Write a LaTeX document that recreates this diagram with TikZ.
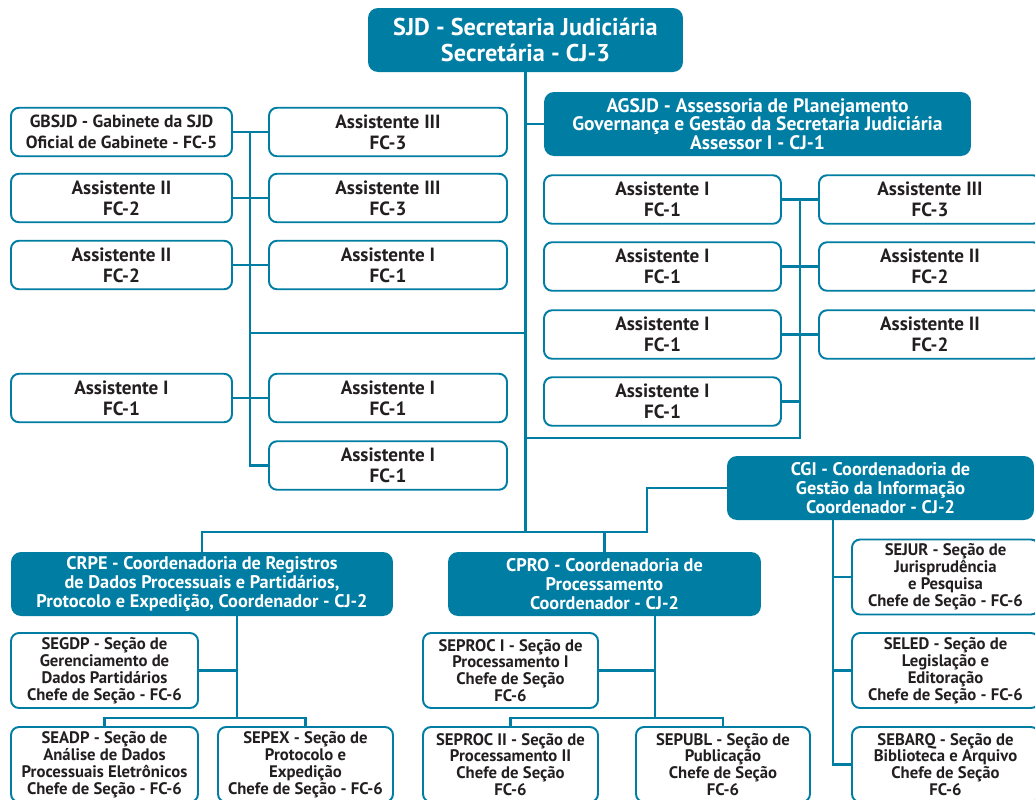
\documentclass[tikz,border=0pt]{standalone}
\usepackage{fontspec}
\setmainfont{PT Sans}
\definecolor{orgteal}{RGB}{0,125,163}
\definecolor{orgink}{RGB}{35,31,32}
\begin{document}
\begin{tikzpicture}[
    x=0.02cm, y=-0.02cm,
    head/.style={fill=orgteal,rounded corners=0.2cm,text=white,align=center,inner sep=0pt,
        minimum height=1.28cm,font=\bfseries\fontsize{10.4}{10.8}\selectfont},
    post/.style={draw=orgteal,line width=1.1pt,fill=white,rounded corners=0.16cm,text=orgink,
        align=center,inner sep=0pt,minimum height=0.97cm,font=\bfseries\fontsize{10.9}{12}\selectfont},
    sect/.style={post,minimum height=1.5cm,font=\bfseries\fontsize{9.5}{9.6}\selectfont},
    link/.style={draw=orgteal,line width=1.5pt}
]
\useasboundingbox (0,0) rectangle (1035,799);
\clip (0,0) rectangle (1035,799);

% secretaria
\node[head,minimum width=6.3cm,font=\bfseries\fontsize{13.8}{14.7}\selectfont] (sjd) at (525.5,40)
    {SJD - Secretaria Judiciária\\Secretária - CJ-3};
\node[head,minimum width=8.54cm,font=\bfseries\fontsize{11.1}{10.7}\selectfont] (agsjd) at (757.5,124)
    {AGSJD - Assessoria de Planejamento\\Governança e Gestão da Secretaria Judiciária\\Assessor I - CJ-1};

% gabinete
\node[post,minimum width=4.42cm,font=\bfseries\fontsize{10}{12}\selectfont] (gb) at (121.5,132)
    {GBSJD - Gabinete da SJD\\Oficial de Gabinete - FC-5};
\node[post,minimum width=4.42cm] (l2) at (121.5,198) {Assistente II\\FC-2};
\node[post,minimum width=4.42cm] (l3) at (121.5,265) {Assistente II\\FC-2};
\node[post,minimum width=4.42cm] (l4) at (121.5,398) {Assistente I\\FC-1};
\node[post,minimum width=4.76cm] (r1) at (388,132) {Assistente III\\FC-3};
\node[post,minimum width=4.76cm] (r2) at (388,198) {Assistente III\\FC-3};
\node[post,minimum width=4.76cm] (r3) at (388,265) {Assistente I\\FC-1};
\node[post,minimum width=4.76cm] (r4) at (388,398) {Assistente I\\FC-1};
\node[post,minimum width=4.76cm] (r5) at (388,465.5) {Assistente I\\FC-1};

% assessoria
\node[post,minimum width=4.74cm] (a1) at (662.5,199.5) {Assistente I\\FC-1};
\node[post,minimum width=4.74cm] (a2) at (662.5,266.5) {Assistente I\\FC-1};
\node[post,minimum width=4.74cm] (a3) at (662.5,334.5) {Assistente I\\FC-1};
\node[post,minimum width=4.74cm] (a4) at (662.5,401.5) {Assistente I\\FC-1};
\node[post,minimum width=4.44cm] (b1) at (930,199.5) {Assistente III\\FC-3};
\node[post,minimum width=4.44cm] (b2) at (930,266.5) {Assistente II\\FC-2};
\node[post,minimum width=4.44cm] (b3) at (930,334.5) {Assistente II\\FC-2};

% coordenadorias
\node[head,minimum width=6.14cm] (cgi) at (880.5,488)
    {CGI - Coordenadoria de\\Gestão da Informação\\Coordenador - CJ-2};
\node[head,minimum width=7.64cm] (crpe) at (202,584)
    {CRPE - Coordenadoria de Registros\\de Dados Processuais e Partidários,\\Protocolo e Expedição, Coordenador - CJ-2};
\node[head,minimum width=6.26cm] (cpro) at (604.5,584)
    {CPRO - Coordenadoria de\\Processamento\\Coordenador - CJ-2};

% secoes
\node[sect,minimum width=3.74cm] (segdp) at (104.5,670.5) {SEGDP - Seção de\\Gerenciamento de\\Dados Partidários\\Chefe de Seção - FC-6};
\node[sect,minimum width=3.74cm] (seadp) at (104.5,764.5) {SEADP - Seção de\\Análise de Dados\\Processuais Eletrônicos\\Chefe de Seção - FC-6};
\node[sect,minimum width=3.5cm] (sepex) at (305.5,764.5) {SEPEX - Seção de\\Protocolo e\\Expedição\\Chefe de Seção - FC-6};
\node[sect,minimum width=3.5cm] (seproca) at (510.5,670.5) {SEPROC I - Seção de\\Processamento I\\Chefe de Seção\\FC-6};
\node[sect,minimum width=3.5cm] (seprocb) at (510.5,764.5) {SEPROC II - Seção de\\Processamento II\\Chefe de Seção\\FC-6};
\node[sect,minimum width=3.48cm] (sepubl) at (723,764.5) {SEPUBL - Seção de\\Publicação\\Chefe de Seção\\FC-6};
\node[sect,minimum width=3.74cm] (sejur) at (945.5,577) {SEJUR - Seção de\\Jurisprudência\\e Pesquisa\\Chefe de Seção - FC-6};
\node[sect,minimum width=3.74cm] (seled) at (945.5,670.5) {SELED - Seção de\\Legislação e\\Editoração\\Chefe de Seção - FC-6};
\node[sect,minimum width=3.74cm] (sebarq) at (945.5,764.5) {SEBARQ - Seção de\\Biblioteca e Arquivo\\Chefe de Seção\\FC-6};

\coordinate (gv) at (250,333);
\coordinate (av) at (800,438);
\coordinate (hub) at (526,532);
\coordinate (bend) at (647,532);
\coordinate (crpev) at (237,718);
\coordinate (cprov) at (655,718);
\coordinate (cgiv) at (833,0);

\draw[link] (sjd.south) -- (sjd.south |- hub);
\draw[link] (sjd.south |- agsjd.west) -- (agsjd.west);

\draw[link] (gv) -- (gv -| sjd.south);
\draw[link] (gv |- gb.east) -- (gv |- r5.west) -- (r5.west);
\draw[link] (gb.east) -- (r1.west);
\draw[link] (l2.east) -- (r2.west);
\draw[link] (l3.east) -- (r3.west);
\draw[link] (l4.east) -- (r4.west);

\draw[link] (av |- a1.east) -- (av) -- (av -| sjd.south);
\draw[link] (a1.east) -- (b1.west);
\draw[link] (a2.east) -- (b2.west);
\draw[link] (a3.east) -- (b3.west);
\draw[link] (a4.east) -- (a4.east -| av);

\draw[link] (crpe.north) |- (bend) |- (cgi.west);
\draw[link] (cpro.north) -- (cpro.north |- hub);

\draw[link] (crpev |- crpe.south) -- (crpev);
\draw[link] (segdp.east) -- (segdp.east -| crpev);
\draw[link] (seadp.north) |- (crpev) -| (sepex.north);

\draw[link] (cprov |- cpro.south) -- (cprov);
\draw[link] (seproca.east) -- (seproca.east -| cprov);
\draw[link] (seprocb.north) |- (cprov) -| (sepubl.north);

\draw[link] (cgiv |- cgi.south) |- (sebarq.west);
\draw[link] (cgiv |- sejur.west) -- (sejur.west);
\draw[link] (cgiv |- seled.west) -- (seled.west);
\end{tikzpicture}
\end{document}
